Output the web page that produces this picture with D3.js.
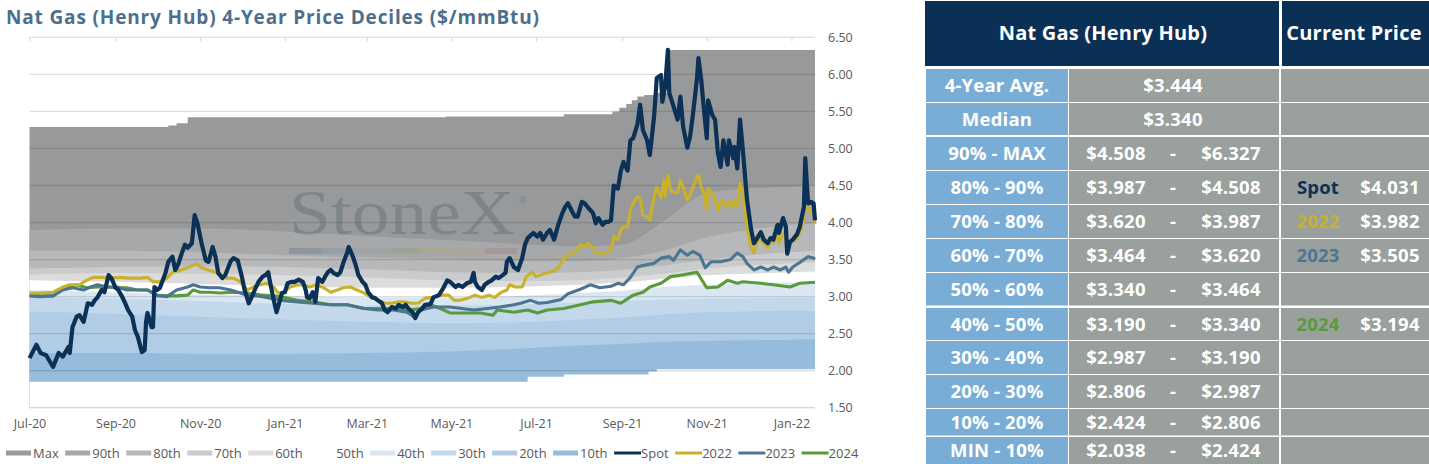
<!doctype html>
<html lang="en">
<head>
  <meta charset="utf-8">
  <title>Nat Gas (Henry Hub) 4-Year Price Deciles</title>
  <style>
    body { margin: 0; background: #fff; }
    svg { display: block; font-family: "Open Sans", Lato, sans-serif; }
  </style>
</head>
<body>
  <script src="https://cdn.jsdelivr.net/npm/d3@7"></script>
  <script>
    // ---------- data ----------
    // rolling 4-year deciles, sampled at these dates
    const bandDates = ['2020-07-01', '2020-09-01', '2020-11-01', '2021-01-01', '2021-03-01', '2021-05-01', '2021-07-01',
                       '2021-08-01', '2021-09-01', '2021-10-01', '2021-11-01', '2021-12-01', '2022-01-01', '2022-01-18'];
    const p90 = [3.90, 3.92, 3.92, 3.88, 3.82, 3.76, 3.70, 3.68, 3.70, 4.02, 4.40, 4.46, 4.48, 4.508];
    const p80 = [3.62, 3.62, 3.60, 3.56, 3.53, 3.50, 3.48, 3.48, 3.52, 3.62, 3.80, 3.90, 3.97, 3.987];
    const p70 = [3.38, 3.40, 3.41, 3.40, 3.37, 3.33, 3.32, 3.33, 3.36, 3.42, 3.50, 3.56, 3.60, 3.620];
    const p60 = [3.30, 3.32, 3.31, 3.29, 3.26, 3.22, 3.21, 3.22, 3.26, 3.31, 3.38, 3.42, 3.45, 3.464];
    const p50 = [3.22, 3.20, 3.17, 3.14, 3.12, 3.12, 3.14, 3.16, 3.19, 3.24, 3.29, 3.31, 3.33, 3.340];
    const p40 = [3.09, 3.06, 3.03, 3.01, 2.99, 2.99, 3.02, 3.05, 3.08, 3.13, 3.16, 3.18, 3.19, 3.190];
    const p30 = [3.00, 2.97, 2.94, 2.90, 2.88, 2.88, 2.90, 2.92, 2.94, 2.96, 2.97, 2.98, 2.985, 2.987];
    const p20 = [2.80, 2.77, 2.73, 2.69, 2.66, 2.64, 2.66, 2.69, 2.72, 2.76, 2.79, 2.80, 2.805, 2.806];
    const p10 = [2.24, 2.24, 2.23, 2.23, 2.24, 2.26, 2.31, 2.34, 2.36, 2.39, 2.40, 2.41, 2.42, 2.424];

    // max and min move in steps
    const maxSteps = [['2020-07-01', 5.29], ['2020-10-09', 5.31], ['2020-10-15', 5.34], ['2020-10-23', 5.42],
                      ['2021-04-27', 5.43], ['2021-07-21', 5.46], ['2021-08-25', 5.50], ['2021-08-30', 5.55],
                      ['2021-09-04', 5.60], ['2021-09-08', 5.65], ['2021-09-12', 5.70], ['2021-09-17', 5.72],
                      ['2021-09-24', 5.75], ['2021-10-04', 6.33], ['2022-01-18', 6.33]];
    const minSteps = [['2020-07-01', 1.85], ['2021-06-25', 1.92], ['2021-07-21', 1.95], ['2021-09-20', 1.99],
                      ['2021-09-26', 2.02], ['2022-01-18', 2.038]];

    const spot = [
      ['2020-07-01', 2.17], ['2020-07-06', 2.35], ['2020-07-09', 2.24], ['2020-07-13', 2.21], ['2020-07-18', 2.05],
      ['2020-07-22', 2.24], ['2020-07-25', 2.19], ['2020-07-29', 2.32], ['2020-07-30', 2.24], ['2020-08-01', 2.59],
      ['2020-08-04', 2.73], ['2020-08-06', 2.75], ['2020-08-09', 2.66], ['2020-08-12', 2.91], ['2020-08-15', 2.89],
      ['2020-08-17', 2.95], ['2020-08-19', 2.99], ['2020-08-22', 3.09], ['2020-08-24', 3.06], ['2020-08-27', 3.29],
      ['2020-08-29', 3.25], ['2020-09-01', 3.12], ['2020-09-03', 3.09], ['2020-09-06', 2.99], ['2020-09-08', 2.91],
      ['2020-09-10', 2.82], ['2020-09-13', 2.73], ['2020-09-15', 2.55], ['2020-09-17', 2.46], ['2020-09-20', 2.25],
      ['2020-09-22', 2.28], ['2020-09-23', 2.66], ['2020-09-24', 2.78], ['2020-09-27', 2.59], ['2020-09-28', 2.59],
      ['2020-09-29', 3.13], ['2020-10-01', 3.09], ['2020-10-03', 3.12], ['2020-10-07', 3.32], ['2020-10-09', 3.47],
      ['2020-10-12', 3.54], ['2020-10-14', 3.36], ['2020-10-16', 3.43], ['2020-10-19', 3.60], ['2020-10-21', 3.70],
      ['2020-10-23', 3.66], ['2020-10-26', 3.72], ['2020-10-28', 4.10], ['2020-10-30', 3.99], ['2020-11-02', 3.72],
      ['2020-11-05', 3.49], ['2020-11-07', 3.47], ['2020-11-10', 3.67], ['2020-11-12', 3.54], ['2020-11-14', 3.32],
      ['2020-11-17', 3.25], ['2020-11-19', 3.29], ['2020-11-23', 3.48], ['2020-11-25', 3.52], ['2020-11-28', 3.49],
      ['2020-12-01', 3.27], ['2020-12-03', 3.09], ['2020-12-06', 2.91], ['2020-12-08', 2.99], ['2020-12-11', 3.12],
      ['2020-12-13', 3.20], ['2020-12-16', 3.27], ['2020-12-18', 3.29], ['2020-12-20', 3.33], ['2020-12-21', 3.23],
      ['2020-12-24', 2.95], ['2020-12-26', 2.79], ['2020-12-30', 3.05], ['2021-01-01', 3.06], ['2021-01-03', 3.18],
      ['2021-01-06', 3.20], ['2021-01-08', 3.20], ['2021-01-11', 3.23], ['2021-01-14', 3.20], ['2021-01-16', 3.09],
      ['2021-01-17', 2.99], ['2021-01-19', 2.98], ['2021-01-21', 3.06], ['2021-01-23', 2.93], ['2021-01-25', 3.25],
      ['2021-01-28', 3.20], ['2021-01-30', 3.27], ['2021-02-01', 3.33], ['2021-02-03', 3.36], ['2021-02-05', 3.32],
      ['2021-02-08', 3.29], ['2021-02-10', 3.33], ['2021-02-12', 3.45], ['2021-02-15', 3.60], ['2021-02-16', 3.67],
      ['2021-02-19', 3.54], ['2021-02-21', 3.43], ['2021-02-23', 3.29], ['2021-02-26', 3.20], ['2021-02-28', 3.16],
      ['2021-03-02', 3.06], ['2021-03-05', 2.99], ['2021-03-07', 2.98], ['2021-03-09', 2.95], ['2021-03-12', 2.91],
      ['2021-03-14', 2.82], ['2021-03-16', 2.79], ['2021-03-19', 2.86], ['2021-03-22', 2.84], ['2021-03-24', 2.89],
      ['2021-03-27', 2.86], ['2021-03-29', 2.89], ['2021-03-31', 2.84], ['2021-04-03', 2.79], ['2021-04-05', 2.71],
      ['2021-04-07', 2.79], ['2021-04-10', 2.84], ['2021-04-12', 2.89], ['2021-04-16', 2.90], ['2021-04-18', 2.99],
      ['2021-04-22', 3.02], ['2021-04-25', 3.11], ['2021-04-28', 3.22], ['2021-04-30', 3.20], ['2021-05-04', 3.13],
      ['2021-05-06', 3.16], ['2021-05-09', 3.13], ['2021-05-12', 3.18], ['2021-05-15', 3.20], ['2021-05-17', 3.32],
      ['2021-05-18', 3.20], ['2021-05-20', 3.13], ['2021-05-23', 3.09], ['2021-05-25', 3.16], ['2021-05-28', 3.20],
      ['2021-05-30', 3.22], ['2021-06-02', 3.27], ['2021-06-04', 3.25], ['2021-06-07', 3.29], ['2021-06-09', 3.32],
      ['2021-06-10', 3.47], ['2021-06-12', 3.52], ['2021-06-15', 3.40], ['2021-06-18', 3.36], ['2021-06-21', 3.52],
      ['2021-06-23', 3.70], ['2021-06-25', 3.79], ['2021-06-29', 3.86], ['2021-07-02', 3.81], ['2021-07-04', 3.86],
      ['2021-07-06', 3.77], ['2021-07-09', 3.86], ['2021-07-11', 3.90], ['2021-07-14', 3.77], ['2021-07-17', 3.97],
      ['2021-07-20', 4.13], ['2021-07-22', 4.21], ['2021-07-24', 4.26], ['2021-07-27', 4.15], ['2021-07-29', 4.08],
      ['2021-07-31', 4.08], ['2021-08-03', 4.28], ['2021-08-05', 4.26], ['2021-08-08', 4.19], ['2021-08-11', 4.13],
      ['2021-08-13', 3.99], ['2021-08-15', 4.06], ['2021-08-18', 3.97], ['2021-08-20', 4.01], ['2021-08-22', 4.01],
      ['2021-08-24', 4.03], ['2021-08-26', 4.50], ['2021-08-29', 4.46], ['2021-08-31', 4.69], ['2021-09-02', 4.82],
      ['2021-09-05', 4.70], ['2021-09-07', 5.11], ['2021-09-09', 5.14], ['2021-09-12', 5.32], ['2021-09-14', 5.59],
      ['2021-09-16', 5.25], ['2021-09-19', 5.11], ['2021-09-21', 4.91], ['2021-09-24', 5.42], ['2021-09-26', 5.95],
      ['2021-09-29', 5.99], ['2021-09-30', 5.63], ['2021-10-02', 5.83], ['2021-10-04', 6.33], ['2021-10-05', 5.75],
      ['2021-10-08', 5.57], ['2021-10-11', 5.39], ['2021-10-13', 5.70], ['2021-10-15', 5.29], ['2021-10-18', 5.01],
      ['2021-10-20', 5.16], ['2021-10-22', 5.45], ['2021-10-25', 5.95], ['2021-10-26', 6.22], ['2021-10-28', 5.93],
      ['2021-10-30', 5.52], ['2021-11-01', 5.14], ['2021-11-02', 5.65], ['2021-11-05', 5.45], ['2021-11-07', 5.39],
      ['2021-11-09', 4.94], ['2021-11-11', 4.75], ['2021-11-13', 5.11], ['2021-11-16', 4.78], ['2021-11-17', 5.11],
      ['2021-11-20', 4.87], ['2021-11-21', 5.02], ['2021-11-23', 4.73], ['2021-11-25', 5.39], ['2021-11-27', 4.98],
      ['2021-11-30', 4.31], ['2021-12-03', 3.90], ['2021-12-05', 3.72], ['2021-12-08', 3.81], ['2021-12-10', 3.87],
      ['2021-12-12', 3.77], ['2021-12-15', 3.72], ['2021-12-17', 3.79], ['2021-12-19', 3.77], ['2021-12-22', 3.97],
      ['2021-12-23', 3.86], ['2021-12-26', 4.06], ['2021-12-28', 3.94], ['2021-12-29', 3.58], ['2021-12-31', 3.74],
      ['2022-01-02', 3.77], ['2022-01-05', 3.84], ['2022-01-07', 3.94], ['2022-01-10', 4.21], ['2022-01-11', 4.87],
      ['2022-01-13', 4.26], ['2022-01-15', 4.28], ['2022-01-17', 4.26], ['2022-01-18', 4.03]
    ];

    const cal2022 = [
      ['2020-07-01', 3.05], ['2020-07-09', 3.05], ['2020-07-18', 3.06], ['2020-07-25', 3.13], ['2020-07-30', 3.16],
      ['2020-08-06', 3.16], ['2020-08-11', 3.22], ['2020-08-16', 3.26], ['2020-08-23', 3.26], ['2020-08-28', 3.25],
      ['2020-09-04', 3.26], ['2020-09-11', 3.25], ['2020-09-19', 3.25], ['2020-09-24', 3.26], ['2020-09-28', 3.20],
      ['2020-10-03', 3.20], ['2020-10-08', 3.25], ['2020-10-12', 3.33], ['2020-10-18', 3.36], ['2020-10-23', 3.39],
      ['2020-10-27', 3.43], ['2020-10-30', 3.44], ['2020-11-02', 3.39], ['2020-11-07', 3.36], ['2020-11-12', 3.33],
      ['2020-11-15', 3.29], ['2020-11-20', 3.25], ['2020-11-25', 3.25], ['2020-11-30', 3.20], ['2020-12-05', 3.09],
      ['2020-12-09', 3.13], ['2020-12-14', 3.16], ['2020-12-19', 3.18], ['2020-12-24', 3.13], ['2020-12-27', 3.05],
      ['2020-12-31', 3.06], ['2021-01-05', 3.13], ['2021-01-10', 3.16], ['2021-01-14', 3.16], ['2021-01-19', 3.13],
      ['2021-01-24', 3.16], ['2021-01-29', 3.12], ['2021-02-03', 3.06], ['2021-02-08', 3.09], ['2021-02-12', 3.12],
      ['2021-02-17', 3.13], ['2021-02-22', 3.09], ['2021-02-27', 3.05], ['2021-03-04', 2.99], ['2021-03-10', 2.95],
      ['2021-03-14', 2.91], ['2021-03-19', 2.91], ['2021-03-24', 2.93], ['2021-03-28', 2.93], ['2021-04-02', 2.91],
      ['2021-04-07', 2.91], ['2021-04-12', 2.98], ['2021-04-17', 2.99], ['2021-04-24', 3.02], ['2021-04-29', 3.02],
      ['2021-05-03', 2.95], ['2021-05-07', 2.95], ['2021-05-13', 2.98], ['2021-05-18', 3.02], ['2021-05-23', 2.99],
      ['2021-05-28', 3.02], ['2021-06-01', 2.99], ['2021-06-06', 3.06], ['2021-06-10', 3.09], ['2021-06-12', 3.16],
      ['2021-06-16', 3.13], ['2021-06-21', 3.13], ['2021-06-24', 3.27], ['2021-06-28', 3.33], ['2021-07-01', 3.27],
      ['2021-07-04', 3.29], ['2021-07-08', 3.32], ['2021-07-11', 3.33], ['2021-07-15', 3.36], ['2021-07-17', 3.39],
      ['2021-07-20', 3.49], ['2021-07-24', 3.56], ['2021-07-27', 3.59], ['2021-07-29', 3.60], ['2021-08-02', 3.70],
      ['2021-08-04', 3.67], ['2021-08-07', 3.72], ['2021-08-11', 3.66], ['2021-08-13', 3.59], ['2021-08-16', 3.59],
      ['2021-08-20', 3.59], ['2021-08-24', 3.63], ['2021-08-26', 3.81], ['2021-08-29', 3.77], ['2021-08-31', 3.90],
      ['2021-09-02', 3.94], ['2021-09-05', 3.94], ['2021-09-07', 4.17], ['2021-09-09', 4.26], ['2021-09-12', 4.35],
      ['2021-09-14', 4.33], ['2021-09-16', 4.10], ['2021-09-19', 4.08], ['2021-09-21', 4.03], ['2021-09-24', 4.35],
      ['2021-09-26', 4.48], ['2021-09-29', 4.33], ['2021-10-01', 4.57], ['2021-10-02', 4.35], ['2021-10-04', 4.64],
      ['2021-10-06', 4.44], ['2021-10-08', 4.41], ['2021-10-11', 4.40], ['2021-10-13', 4.57], ['2021-10-15', 4.48],
      ['2021-10-18', 4.30], ['2021-10-20', 4.37], ['2021-10-22', 4.48], ['2021-10-25', 4.62], ['2021-10-26', 4.64],
      ['2021-10-28', 4.48], ['2021-10-30', 4.40], ['2021-11-01', 4.17], ['2021-11-02', 4.46], ['2021-11-05', 4.40],
      ['2021-11-07', 4.30], ['2021-11-09', 4.17], ['2021-11-11', 4.30], ['2021-11-13', 4.26], ['2021-11-16', 4.21],
      ['2021-11-17', 4.30], ['2021-11-20', 4.21], ['2021-11-21', 4.30], ['2021-11-23', 4.21], ['2021-11-25', 4.53],
      ['2021-11-27', 4.40], ['2021-11-30', 3.90], ['2021-12-03', 3.67], ['2021-12-05', 3.59], ['2021-12-08', 3.77],
      ['2021-12-10', 3.77], ['2021-12-12', 3.72], ['2021-12-15', 3.66], ['2021-12-17', 3.79], ['2021-12-19', 3.72],
      ['2021-12-22', 3.87], ['2021-12-23', 3.72], ['2021-12-26', 3.86], ['2021-12-28', 3.77], ['2021-12-29', 3.59],
      ['2021-12-31', 3.72], ['2022-01-02', 3.74], ['2022-01-05', 3.79], ['2022-01-07', 3.86], ['2022-01-10', 4.03],
      ['2022-01-11', 4.26], ['2022-01-13', 4.17], ['2022-01-15', 4.15], ['2022-01-17', 4.17], ['2022-01-18', 3.98]
    ];

    const cal2023 = [
      ['2020-07-01', 3.01], ['2020-07-09', 3.00], ['2020-07-18', 3.01], ['2020-07-25', 3.09], ['2020-08-01', 3.12],
      ['2020-08-09', 3.09], ['2020-08-14', 3.13], ['2020-08-19', 3.16], ['2020-08-26', 3.13], ['2020-09-02', 3.13],
      ['2020-09-09', 3.09], ['2020-09-17', 3.09], ['2020-09-24', 3.09], ['2020-10-01', 3.02], ['2020-10-08', 3.00],
      ['2020-10-15', 3.09], ['2020-10-23', 3.13], ['2020-10-27', 3.16], ['2020-11-01', 3.13], ['2020-11-08', 3.12],
      ['2020-11-15', 3.12], ['2020-11-23', 3.09], ['2020-12-05', 3.02], ['2020-12-16', 3.00], ['2020-12-29', 2.95],
      ['2021-01-10', 2.93], ['2021-01-21', 2.91], ['2021-02-03', 2.89], ['2021-02-15', 2.89], ['2021-02-27', 2.84],
      ['2021-03-09', 2.82], ['2021-03-20', 2.82], ['2021-03-30', 2.79], ['2021-04-04', 2.73], ['2021-04-09', 2.82],
      ['2021-04-18', 2.86], ['2021-04-30', 2.86], ['2021-05-17', 2.82], ['2021-05-27', 2.84], ['2021-06-05', 2.86],
      ['2021-06-15', 2.89], ['2021-06-20', 2.91], ['2021-06-27', 2.95], ['2021-07-03', 2.91], ['2021-07-09', 2.92],
      ['2021-07-19', 2.96], ['2021-07-24', 3.04], ['2021-08-02', 3.10], ['2021-08-09', 3.16], ['2021-08-16', 3.12],
      ['2021-08-24', 3.14], ['2021-08-29', 3.18], ['2021-09-02', 3.16], ['2021-09-07', 3.26], ['2021-09-12', 3.40],
      ['2021-09-16', 3.42], ['2021-09-24', 3.45], ['2021-09-29', 3.52], ['2021-10-05', 3.54], ['2021-10-08', 3.49],
      ['2021-10-13', 3.63], ['2021-10-18', 3.56], ['2021-10-22', 3.61], ['2021-10-27', 3.56], ['2021-10-31', 3.39],
      ['2021-11-04', 3.47], ['2021-11-11', 3.47], ['2021-11-18', 3.50], ['2021-11-23', 3.59], ['2021-11-27', 3.54],
      ['2021-11-30', 3.45], ['2021-12-05', 3.36], ['2021-12-10', 3.40], ['2021-12-15', 3.36], ['2021-12-19', 3.40],
      ['2021-12-24', 3.36], ['2021-12-28', 3.40], ['2021-12-30', 3.33], ['2022-01-02', 3.40], ['2022-01-07', 3.46],
      ['2022-01-13', 3.54], ['2022-01-17', 3.52], ['2022-01-18', 3.505]
    ];

    const cal2024 = [
      ['2020-07-01', 3.02], ['2020-07-09', 3.01], ['2020-07-18', 3.01], ['2020-07-23', 3.09], ['2020-07-28', 3.13],
      ['2020-08-04', 3.16], ['2020-08-11', 3.12], ['2020-08-19', 3.13], ['2020-08-26', 3.13], ['2020-09-02', 3.12],
      ['2020-09-09', 3.12], ['2020-09-17', 3.09], ['2020-09-24', 3.09], ['2020-10-01', 3.01], ['2020-10-08', 3.01],
      ['2020-10-15', 3.01], ['2020-10-23', 3.02], ['2020-10-27', 3.09], ['2020-11-01', 3.06], ['2020-11-08', 3.06],
      ['2020-11-15', 3.05], ['2020-11-25', 3.06], ['2020-12-05', 3.05], ['2020-12-16', 3.02], ['2020-12-29', 3.00],
      ['2021-01-10', 2.95], ['2021-01-21', 2.93], ['2021-02-03', 2.89], ['2021-02-15', 2.89], ['2021-02-27', 2.84],
      ['2021-03-09', 2.84], ['2021-03-20', 2.84], ['2021-04-01', 2.82], ['2021-04-09', 2.84], ['2021-04-16', 2.89],
      ['2021-04-23', 2.84], ['2021-04-30', 2.78], ['2021-05-10', 2.78], ['2021-05-22', 2.78], ['2021-05-31', 2.75],
      ['2021-06-03', 2.82], ['2021-06-15', 2.79], ['2021-06-25', 2.82], ['2021-07-02', 2.78], ['2021-07-09', 2.82],
      ['2021-07-21', 2.84], ['2021-08-02', 2.89], ['2021-08-11', 2.93], ['2021-08-24', 2.95], ['2021-08-31', 2.91],
      ['2021-09-09', 3.02], ['2021-09-16', 3.06], ['2021-09-21', 3.13], ['2021-09-29', 3.18], ['2021-10-06', 3.27],
      ['2021-10-13', 3.29], ['2021-10-22', 3.32], ['2021-10-25', 3.33], ['2021-10-30', 3.18], ['2021-11-01', 3.12],
      ['2021-11-09', 3.13], ['2021-11-16', 3.22], ['2021-11-23', 3.18], ['2021-11-27', 3.20], ['2021-12-10', 3.18],
      ['2021-12-19', 3.16], ['2021-12-31', 3.13], ['2022-01-07', 3.18], ['2022-01-18', 3.194]
    ];

    const xTicks = ['2020-07-01', '2020-09-01', '2020-11-01', '2021-01-01', '2021-03-01',
                    '2021-05-01', '2021-07-01', '2021-09-01', '2021-11-01', '2022-01-01'];
    const yTicks = [1.5, 2.0, 2.5, 3.0, 3.5, 4.0, 4.5, 5.0, 5.5, 6.0, 6.5];

    // table
    const summaryLabels = ['4-Year Avg.', 'Median'];
    const summaryValues = [3.444, 3.340];
    const decileLabels = ['90% - MAX', '80% - 90%', '70% - 80%', '60% - 70%', '50% - 60%',
                          '40% - 50%', '30% - 40%', '20% - 30%', '10% - 20%', 'MIN - 10%'];
    const decileLow  = [4.508, 3.987, 3.620, 3.464, 3.340, 3.190, 2.987, 2.806, 2.424, 2.038];
    const decileHigh = [6.327, 4.508, 3.987, 3.620, 3.464, 3.340, 3.190, 2.987, 2.806, 2.424];
    const currentNames  = ['Spot', '2022', '2023', '2024'];
    const currentValues = [4.031, 3.982, 3.505, 3.194];

    // ---------- drawing ----------
    const W = 1429, H = 464;
    const parse = d3.timeParse('%Y-%m-%d');
    const fmt3 = d3.format('.3f');

    const svg = d3.select('body').append('svg')
                  .attr('width', W)
                  .attr('height', H);

    const x = d3.scaleTime()
                .domain([parse('2020-07-01'), parse('2022-01-18')])
                .range([29.5, 815]);
    const y = d3.scaleLinear()
                .domain([1.5, 6.5])
                .range([407.8, 37.3]);

    const bandColors = {
      Max: '#98999a', '90th': '#a7a8a9', '80th': '#b7b8b9', '70th': '#cacbcc', '60th': '#dcdcdc',
      '50th': '#ffffff', '40th': '#dae7f3', '30th': '#c3d8eb', '20th': '#b1cde5', '10th': '#96bcdd'
    };
    const lineColors = { Spot: '#0c3157', '2022': '#c8b12c', '2023': '#4c7591', '2024': '#5a9a3b' };

    const pairs = (vals) => bandDates.map((d, i) => [d, vals[i]]);
    const bands = [
      { key: 'Max', pts: maxSteps, curve: d3.curveStepAfter },
      { key: '90th', pts: pairs(p90) },
      { key: '80th', pts: pairs(p80) },
      { key: '70th', pts: pairs(p70) },
      { key: '60th', pts: pairs(p60) },
      { key: '50th', pts: pairs(p50) },
      { key: '40th', pts: pairs(p40) },
      { key: '30th', pts: pairs(p30) },
      { key: '20th', pts: pairs(p20) },
      { key: '10th', pts: pairs(p10) },
      { key: 'min', pts: minSteps, curve: d3.curveStepAfter }
    ];

    // each decile filled down to the bottom, drawn from the top one down
    bands.forEach((b) => {
      const area = d3.area()
                     .curve(b.curve || d3.curveMonotoneX)
                     .x((d) => x(parse(d[0])))
                     .y0(y(1.5))
                     .y1((d) => y(d[1]));
      svg.append('path')
         .attr('d', area(b.pts))
         .attr('fill', b.key === 'min' ? '#fff' : bandColors[b.key]);
    });

    // gridlines over the bands
    svg.append('g')
       .selectAll('line')
       .data(yTicks)
       .enter()
       .append('line')
       .attr('x1', 29.5)
       .attr('x2', 815)
       .attr('y1', (d) => y(d))
       .attr('y2', (d) => y(d))
       .attr('stroke', 'rgba(0,0,0,0.13)')
       .attr('stroke-width', 1.3);

    // little month ticks hanging from the top gridline
    const topAxis = svg.append('g')
                       .attr('transform', `translate(0, ${y(6.5)})`)
                       .call(d3.axisBottom(x).tickValues(xTicks.map(parse)).tickSize(4).tickFormat(''));
    topAxis.select('.domain').remove();
    topAxis.selectAll('line').attr('stroke', '#d6d6d6');

    // watermark
    const wm = svg.append('g').attr('opacity', 0.5);
    wm.append('text')
      .attr('x', 289)
      .attr('y', 234)
      .attr('font-family', '"Liberation Serif", "DejaVu Serif", serif')
      .attr('font-size', 63)
      .attr('textLength', 226)
      .attr('lengthAdjust', 'spacingAndGlyphs')
      .attr('fill', '#66737a')
      .text('StoneX');
    wm.append('text')
      .attr('x', 519)
      .attr('y', 203)
      .attr('font-size', 9)
      .attr('fill', '#66737a')
      .text('®');
    const stripe = ['#2e5680', '#5a7f9f', '#7f98a8', '#6f9a5a', '#b9a84a', '#bf9c66', '#b0585a'];
    wm.selectAll('rect')
      .data(stripe)
      .enter()
      .append('rect')
      .attr('x', (d, i) => 289 + i * 32.6)
      .attr('y', 248)
      .attr('width', 32.6)
      .attr('height', 6)
      .attr('fill', (d) => d)
      .attr('opacity', 0.4);

    // price lines
    const line = d3.line()
                   .x((d) => x(parse(d[0])))
                   .y((d) => y(d[1]));
    const series = [
      { key: '2024', pts: cal2024, w: 3.1 },
      { key: '2023', pts: cal2023, w: 3.1 },
      { key: '2022', pts: cal2022, w: 3.1 },
      { key: 'Spot', pts: spot, w: 4.2 }
    ];
    series.forEach((s) => {
      svg.append('path')
         .attr('d', line(s.pts))
         .attr('fill', 'none')
         .attr('stroke', lineColors[s.key])
         .attr('stroke-width', s.w)
         .attr('stroke-linejoin', 'round');
    });

    // axis labels
    const xAxis = svg.append('g')
                     .attr('transform', `translate(0, ${y(1.5)})`)
                     .call(d3.axisBottom(x).tickValues(xTicks.map(parse)).tickSize(0).tickPadding(11)
                             .tickFormat(d3.timeFormat('%b-%y')));
    const yAxis = svg.append('g')
                     .attr('transform', 'translate(815, 0)')
                     .call(d3.axisRight(y).tickValues(yTicks).tickSize(0).tickPadding(13)
                             .tickFormat(d3.format('.2f')));
    [xAxis, yAxis].forEach((g) => {
      g.select('.domain').remove();
      g.selectAll('text')
       .attr('font-family', '"Open Sans", sans-serif')
       .attr('font-size', 12.5)
       .attr('fill', '#595959');
    });

    // title
    svg.append('text')
       .attr('x', 6)
       .attr('y', 24)
       .attr('font-size', 19)
       .attr('font-weight', 700)
       .attr('letter-spacing', 0.85)
       .attr('fill', '#4b6f8d')
       .text('Nat Gas (Henry Hub) 4-Year Price Deciles ($/mmBtu)');

    // legend
    const legendKeys = ['Max', '90th', '80th', '70th', '60th', '50th', '40th', '30th', '20th', '10th',
                        'Spot', '2022', '2023', '2024'];
    let lx = 6;
    legendKeys.forEach((k) => {
      if (bandColors[k]) {
        svg.append('rect')
           .attr('x', lx).attr('y', 450.5)
           .attr('width', 25).attr('height', 5)
           .attr('fill', bandColors[k]);
      } else {
        svg.append('line')
           .attr('x1', lx).attr('x2', lx + 27)
           .attr('y1', 453).attr('y2', 453)
           .attr('stroke', lineColors[k])
           .attr('stroke-width', 3);
      }
      const t = svg.append('text')
                   .attr('x', lx + 27)
                   .attr('y', 457.5)
                   .attr('font-size', 13)
                   .attr('fill', '#595959')
                   .text(k);
      lx += 27 + t.node().getComputedTextLength() + 6.5;
    });

    // ---------- table ----------
    const navy = '#0b3055', blue = '#79add6', grey = '#99a09e';
    const col = { lab: [926, 1068], val: [1069, 1279], cur: [1281, 1429] };
    const rowTop = [69, 103, 137, 171, 205, 239, 273, 308, 341, 375, 409, 437];
    const rowH   = [33, 32, 33, 33, 33, 33, 32.5, 32, 33, 33, 26.5, 27];

    const cell = (c, i, fill) => svg.append('rect')
                                    .attr('x', col[c][0]).attr('y', rowTop[i])
                                    .attr('width', col[c][1] - col[c][0]).attr('height', rowH[i])
                                    .attr('fill', fill);
    const txt = (tx, ty, s, fill, size) => svg.append('text')
                                             .attr('x', tx).attr('y', ty)
                                             .attr('text-anchor', 'middle')
                                             .attr('font-size', size || 18.5)
                                             .attr('font-weight', 700)
                                             .attr('letter-spacing', 0.2)
                                             .attr('fill', fill || '#fff')
                                             .text(s);

    svg.append('rect').attr('x', 925).attr('y', 1).attr('width', 354).attr('height', 65).attr('fill', navy);
    svg.append('rect').attr('x', 1282).attr('y', 1).attr('width', 147).attr('height', 65).attr('fill', navy);
    txt(1103, 40, 'Nat Gas (Henry Hub)', '#fff', 20);
    txt(1354, 40, 'Current Price', '#fff', 20);

    const labels = summaryLabels.concat(decileLabels);
    labels.forEach((lab, i) => {
      cell('lab', i, blue);
      cell('val', i, grey);
      cell('cur', i, grey);
      const cy = rowTop[i] + rowH[i] / 2 + 6.5;
      txt(997, cy, lab);
      if (i < summaryLabels.length) {
        txt(1173, cy, '$' + fmt3(summaryValues[i]));
      } else {
        const j = i - summaryLabels.length;
        txt(1116, cy, '$' + fmt3(decileLow[j]));
        txt(1173, cy, '-');
        txt(1231, cy, '$' + fmt3(decileHigh[j]));
      }
    });

    // current prices sit in the decile row they fall into
    currentNames.forEach((name, k) => {
      const v = currentValues[k];
      const j = decileLow.findIndex((lo, n) => v >= lo && v < decileHigh[n]);
      const i = j + summaryLabels.length;
      const cy = rowTop[i] + rowH[i] / 2 + 6.5;
      txt(1318, cy, name, lineColors[name]);
      txt(1390, cy, '$' + fmt3(v));
    });
  </script>
</body>
</html>
